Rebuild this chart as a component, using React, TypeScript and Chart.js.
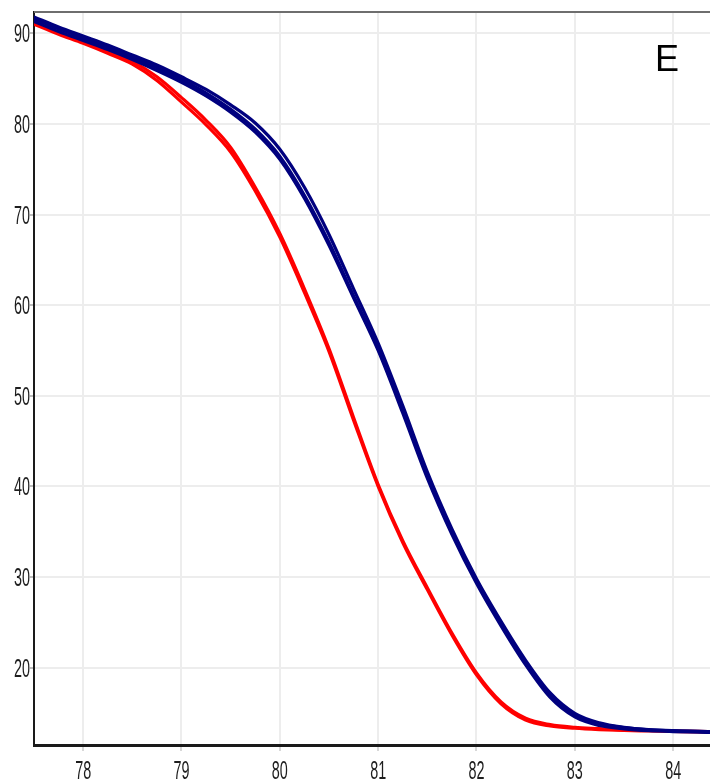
import React, { useEffect, useRef } from "react";
import { Chart, registerables } from "chart.js";

Chart.register(...registerables);

// Temperature (°C) sample points shared by all melt curves
const TEMPS = [77.5, 77.75, 78, 78.25, 78.5, 78.75, 79, 79.25, 79.5, 79.75, 80, 80.25, 80.5, 80.75, 81, 81.25, 81.5, 81.75, 82, 82.25, 82.5, 82.75, 83, 83.25, 83.5, 83.75, 84, 84.25, 84.4];

// Normalised fluorescence – red group
const RED_A = [91.2, 90.1, 89.1, 88.0, 86.9, 85.2, 82.9, 80.4, 77.4, 73.0, 67.9, 61.8, 55.2, 47.6, 40.2, 34.0, 28.8, 23.8, 19.4, 16.2, 14.4, 13.7, 13.4, 13.25, 13.1, 13.05, 13.0, 12.95, 12.9];
const RED_B = [91.0, 89.9, 88.9, 87.8, 86.6, 84.8, 82.4, 79.9, 76.9, 72.6, 67.5, 61.4, 54.9, 47.3, 40.0, 33.8, 28.6, 23.6, 19.2, 16.0, 14.2, 13.55, 13.3, 13.15, 13.05, 13.0, 12.95, 12.9, 12.85];

// Normalised fluorescence – blue group
const BLUE_A = [91.6, 90.5, 89.5, 88.5, 87.4, 86.2, 84.9, 83.4, 81.6, 79.4, 76.4, 72.1, 66.9, 61.0, 55.2, 48.4, 41.2, 35.0, 29.6, 24.9, 20.6, 17.0, 14.8, 13.8, 13.35, 13.12, 13.0, 12.95, 12.9];
const BLUE_B = [91.8, 90.7, 89.7, 88.7, 87.6, 86.5, 85.2, 83.8, 82.1, 80.1, 77.2, 73.0, 67.8, 61.8, 55.8, 48.9, 41.6, 35.3, 29.8, 25.1, 20.8, 17.2, 14.95, 13.9, 13.4, 13.15, 13.03, 12.97, 12.92];
const BLUE_C = [91.3, 90.2, 89.2, 88.2, 87.1, 85.9, 84.6, 83.1, 81.3, 79.1, 76.1, 71.8, 66.6, 60.8, 55.0, 48.1, 40.9, 34.7, 29.3, 24.6, 20.3, 16.7, 14.55, 13.6, 13.22, 13.02, 12.93, 12.88, 12.84];

// Axis ticks and ranges
const X_TICKS = [78, 79, 80, 81, 82, 83, 84];
const Y_TICKS = [20, 30, 40, 50, 60, 70, 80, 90];
const X_MIN = 77.5;
const X_MAX = 84.375;
const Y_MIN = 11.45;
const Y_MAX = 92.35;
const PANEL_LABEL = "E";

const RED = "#ff0000";
const NAVY = "#00007f";

function toPoints(vals: number[]) {
  return TEMPS.map((t, i) => ({ x: t, y: vals[i] }));
}

const decorPlugin = {
  id: "decor",
  afterDraw(chart: any) {
    const { ctx, chartArea: a, scales } = chart;
    const xs = scales.x;
    const ys = scales.y;
    ctx.save();
    // top frame line
    ctx.strokeStyle = "#6e6e6e";
    ctx.lineWidth = 2;
    ctx.beginPath();
    ctx.moveTo(a.left, a.top);
    ctx.lineTo(a.right, a.top);
    ctx.stroke();

    // tick labels (condensed)
    ctx.fillStyle = "#1e1e1e";
    ctx.font = '26px "Liberation Sans Narrow", "Liberation Sans", Arial, sans-serif';
    const sx = 16 / ctx.measureText("00").width;
    ctx.textBaseline = "alphabetic";
    for (const t of ys.ticks) {
      const py = ys.getPixelForValue(t.value);
      ctx.save();
      ctx.translate(30, py + 9);
      ctx.scale(sx, 1);
      ctx.textAlign = "right";
      ctx.fillText(String(t.value), 0, 0);
      ctx.restore();
    }
    for (const t of xs.ticks) {
      const px = xs.getPixelForValue(t.value);
      ctx.save();
      ctx.translate(px, 779);
      ctx.scale(sx, 1);
      ctx.textAlign = "center";
      ctx.fillText(String(t.value), 0, 0);
      ctx.restore();
    }

    // panel label
    ctx.fillStyle = "#000";
    ctx.font = '36px "Liberation Sans", Arial, sans-serif';
    ctx.textAlign = "left";
    ctx.fillText(PANEL_LABEL, 655, 71);
    ctx.restore();
  },
};

export default function App() {
  const ref = useRef<HTMLCanvasElement | null>(null);

  useEffect(() => {
    if (!ref.current) return;
    const line = (vals: number[], color: string, width: number) => ({
      data: toPoints(vals),
      borderColor: color,
      backgroundColor: color,
      borderWidth: width,
      pointRadius: 0,
      fill: false,
      cubicInterpolationMode: "monotone" as const,
      borderCapStyle: "round" as const,
      borderJoinStyle: "round" as const,
    });
    const chart = new Chart(ref.current, {
      type: "line",
      data: {
        datasets: [
          line(BLUE_A, NAVY, 3.4),
          line(BLUE_B, NAVY, 3.2),
          line(BLUE_C, NAVY, 3.2),
          line(RED_A, RED, 3.2),
          line(RED_B, RED, 3.2),
        ],
      },
      plugins: [decorPlugin],
      options: {
        animation: false,
        responsive: false,
        events: [],
        layout: { padding: { top: 12, right: 0, left: 0, bottom: 0 } },
        plugins: { legend: { display: false }, tooltip: { enabled: false } },
        scales: {
          x: {
            type: "linear",
            min: X_MIN,
            max: X_MAX,
            afterBuildTicks: (s: any) => {
              s.ticks = X_TICKS.map((v) => ({ value: v }));
            },
            afterFit: (s: any) => {
              s.height = 38;
            },
            ticks: { display: false },
            grid: {
              color: "#ededed",
              lineWidth: 2,
              drawTicks: true,
              tickLength: 6,
              tickColor: "#d8d8d8",
            },
            border: { display: true, color: "#1a1a1a", width: 3 },
          },
          y: {
            type: "linear",
            min: Y_MIN,
            max: Y_MAX,
            afterBuildTicks: (s: any) => {
              s.ticks = Y_TICKS.map((v) => ({ value: v }));
            },
            afterFit: (s: any) => {
              s.width = 34;
            },
            ticks: { display: false },
            grid: {
              color: "#ededed",
              lineWidth: 2,
              drawTicks: true,
              tickLength: 4,
              tickColor: "#bdbdbd",
            },
            border: { display: true, color: "#1a1a1a", width: 2 },
          },
        },
      },
    } as any);
    return () => chart.destroy();
  }, []);

  return (
    <div style={{ position: "absolute", left: 0, top: 0, width: 710, height: 783, background: "#fff" }}>
      <canvas ref={ref} width={710} height={783} style={{ display: "block" }} />
    </div>
  );
}
